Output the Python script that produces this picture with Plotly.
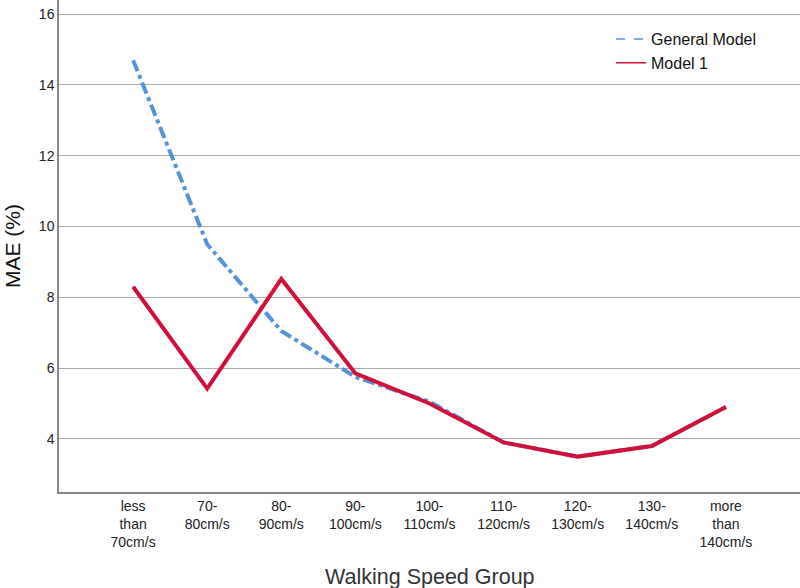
import plotly.graph_objects as go

categories = ["less<br>than<br>70cm/s", "70-<br>80cm/s", "80-<br>90cm/s", "90-<br>100cm/s",
              "100-<br>110cm/s", "110-<br>120cm/s", "120-<br>130cm/s", "130-<br>140cm/s",
              "more<br>than<br>140cm/s"]
general_model = [14.7, 9.5, 7.05, 5.75, 5.05, 3.9, 3.5, 3.8, 4.9]
model_1 = [8.3, 5.42, 8.52, 5.85, 5.0, 3.9, 3.5, 3.8, 4.9]
y_ticks = [4, 6, 8, 10, 12, 14, 16]

blue = "#5594DB"
red = "#D0103A"
x = list(range(len(categories)))

fig = go.Figure()
fig.add_trace(go.Scatter(x=x, y=general_model, mode="lines", showlegend=False,
                         line=dict(color=blue, width=4, dash="dashdot")))
fig.add_trace(go.Scatter(x=x, y=model_1, mode="lines", showlegend=False,
                         line=dict(color=red, width=4)))
fig.add_trace(go.Scatter(x=[None], y=[None], mode="lines", name="General Model",
                         line=dict(color=blue, width=1.5, dash="dash")))
fig.add_trace(go.Scatter(x=[None], y=[None], mode="lines", name="Model 1",
                         line=dict(color=red, width=1.5)))

fig.update_layout(
    width=800, height=588,
    margin=dict(l=59, r=0, t=0, b=96),
    plot_bgcolor="white", paper_bgcolor="white",
    font=dict(family="Liberation Sans, Arial, sans-serif", color="#222"),
    legend=dict(x=0.745, y=0.955, xanchor="left", yanchor="top",
                font=dict(size=16, color="#111"), bgcolor="rgba(0,0,0,0)",
                tracegroupgap=0, itemwidth=30),
    xaxis=dict(tickmode="array", tickvals=x, ticktext=categories, range=[-1, 9],
               showgrid=False, zeroline=False, showline=True, linecolor="#888",
               linewidth=1.5, ticks="", automargin=False,
               tickfont=dict(size=14, color="#222")),
    yaxis=dict(tickmode="array", tickvals=y_ticks, range=[2.5, 16.4],
               showgrid=True, gridcolor="#ABABAB", gridwidth=1, zeroline=False,
               showline=True, linecolor="#888", linewidth=1.5, ticks="", automargin=False,
               tickfont=dict(size=14, color="#222")),
    annotations=[
        dict(text="Walking Speed Group", xref="paper", yref="paper", x=0.5, y=0,
             yshift=-85, xanchor="center", yanchor="middle", showarrow=False,
             font=dict(size=21.5, color="#333")),
        dict(text="MAE (%)", xref="paper", yref="paper", x=0, y=0.5, xshift=-47,
             xanchor="center", yanchor="middle", textangle=-90, showarrow=False,
             font=dict(size=21, color="#111")),
    ],
)

fig.write_html("out.html", config={"displayModeBar": False},
               post_script="document.body.style.margin='0';")
